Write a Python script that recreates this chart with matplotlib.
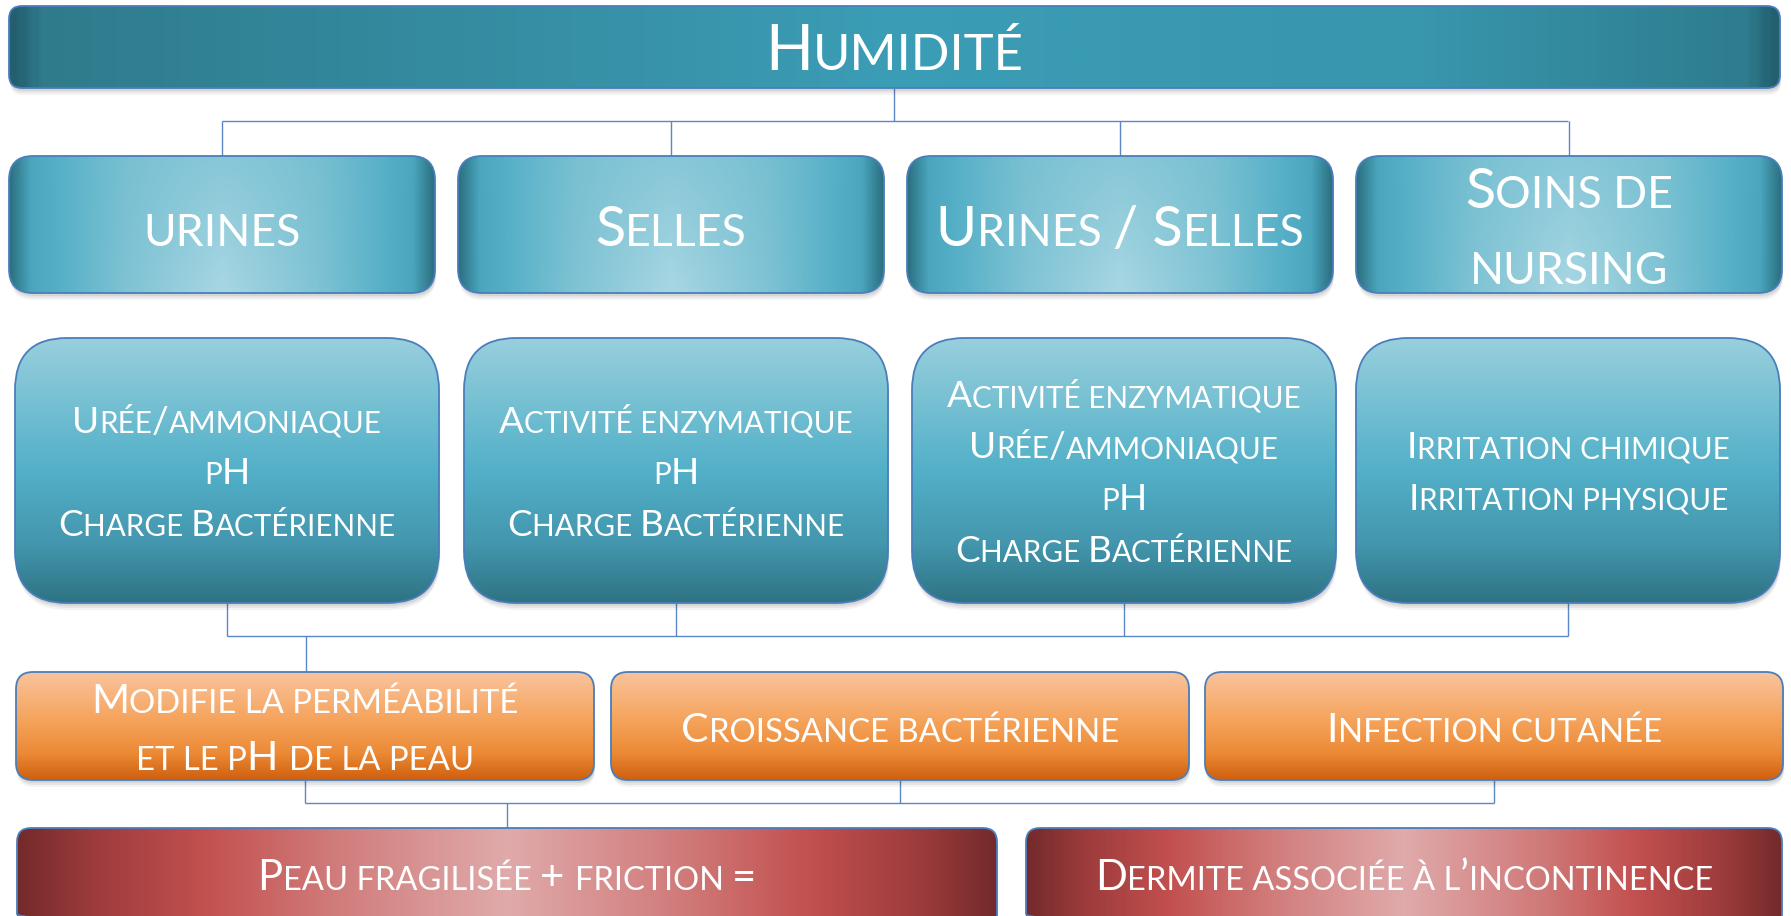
import numpy as np
import matplotlib
matplotlib.use("Agg")
import matplotlib.pyplot as plt
from matplotlib.patches import FancyBboxPatch
from matplotlib.colors import LinearSegmentedColormap, to_rgb
from matplotlib.font_manager import FontProperties, fontManager
from matplotlib.textpath import TextPath

# textes du schema
titre = ["Humidité"]
sources = [["urines"], ["Selles"], ["Urines / Selles"], ["Soins de", "nursing"]]
facteurs = [
    ["Urée/ammoniaque", "pH", "Charge Bactérienne"],
    ["Activité enzymatique", "pH", "Charge Bactérienne"],
    ["Activité enzymatique", "Urée/ammoniaque", "pH", "Charge Bactérienne"],
    ["Irritation chimique", "Irritation physique"],
]
effets = [["Modifie la perméabilité", "et le pH de la peau"], ["Croissance bactérienne"], ["Infection cutanée"]]
resultats = [["Peau fragilisée + friction ="], ["Dermite associée à l’incontinence"]]

W, H = 1791, 916
noms = {f.name for f in fontManager.ttflist}
police = next(p for p in ["Lato", "Open Sans", "DejaVu Sans"] if p in noms)
CAP = TextPath((0, 0), "H", size=100, prop=FontProperties(family=police)).get_extents().height / 100

fig = plt.figure(figsize=(W / 100, H / 100), dpi=100)
ax = fig.add_axes([0, 0, 1, 1])
ax.set_xlim(0, W)
ax.set_ylim(H, 0)
ax.axis("off")
rend = fig.canvas.get_renderer()

BORD = "#4a7ebb"
LIEN = "#5b87c4"


def taille(cap_px):
    return cap_px / CAP * 0.72


def largeur(s, pts):
    fp = FontProperties(family=police, size=pts)
    w1 = rend.get_text_width_height_descent(s + "|", fp, ismath=False)[0]
    w2 = rend.get_text_width_height_descent("|", fp, ismath=False)[0]
    return w1 - w2


def ligne_pc(xc, base, ligne, cap, ratio=0.8):
    # petites capitales : minuscules -> majuscules plus petites
    runs = []
    for ch in ligne:
        petit = ch.islower()
        if ch == " " and runs:
            runs[-1][0] += ch
            continue
        if runs and runs[-1][1] == petit:
            runs[-1][0] += ch.upper()
        else:
            runs.append([ch.upper(), petit])
    tailles = [taille(cap * ratio) if p else taille(cap) for _, p in runs]
    larg = [largeur(s, t) for (s, _), t in zip(runs, tailles)]
    x = xc - sum(larg) / 2
    for (s, _), t, l in zip(runs, tailles, larg):
        ax.text(x, base, s, fontsize=t, family=police, color="white",
                ha="left", va="baseline", zorder=5)
        x += l


def bloc(xc, yc, lignes, cap, pas, ratio=0.8):
    n = len(lignes)
    for i, l in enumerate(lignes):
        ligne_pc(xc, yc + cap / 2 + (i - (n - 1) / 2) * pas, l, cap, ratio)


def degrade(pts):
    return LinearSegmentedColormap.from_list("", pts, N=256)


def boite(x0, y0, w, h, r, img):
    style = "round,pad=0,rounding_size=%g" % r
    for k, a in [(7, 0.05), (5, 0.07), (3, 0.09)]:
        ax.add_patch(FancyBboxPatch((x0 + 1, y0 + k), w, h, boxstyle=style,
                                    fc="#303030", ec="none", alpha=a, zorder=1.5))
    p = FancyBboxPatch((x0, y0), w, h, boxstyle=style, fc="none", ec=BORD, lw=1.3, zorder=3)
    ax.add_patch(p)
    im = ax.imshow(img, extent=(x0, x0 + w, y0 + h, y0), aspect="auto",
                   interpolation="bilinear", zorder=2)
    im.set_clip_path(p)


u = np.linspace(0, 1, 400)[None, :]
v = np.linspace(0, 1, 160)[:, None]
t = np.abs(u - 0.5) * 2 * np.ones_like(v)

# bandeau titre
c_titre = degrade([(0, "#235f6f"), (0.015, "#2f7b8c"), (0.5, "#3b9db6"), (0.8, "#3896ad"),
                   (0.985, "#2e7c8d"), (1, "#235f6f")])
img_titre = c_titre(u * np.ones_like(v))[..., :3]

# sources : degrade horizontal clair au centre
c_src = degrade([(0, "#a9d7e3"), (0.45, "#7fc3d4"), (0.78, "#54afc6"), (0.9, "#4aa6be"), (1, "#2b6f7f")])
img_src = c_src(t)[..., :3]
f = ((1 - v) * 0.45 * (1 - t) ** 1.2)[..., None]
img_src = img_src * (1 - f) + np.array(to_rgb("#5db3c9")) * f

# facteurs : degrade vertical
c_fac = degrade([(0, "#98cfdd"), (0.5, "#52b0c8"), (0.78, "#4396ad"), (1, "#2e7384")])
img_fac = c_fac(v * np.ones_like(u))[..., :3]

# effets : orange
c_eff = degrade([(0, "#f9c39c"), (0.45, "#f5a35b"), (0.75, "#ec8a36"), (1, "#cf600f")])
img_eff = c_eff(v * np.ones_like(u))[..., :3]

# resultats : rouge
c_res = degrade([(0, "#e0aaaa"), (0.35, "#d07c7b"), (0.62, "#c2504f"), (0.85, "#9c3b3c"), (1, "#742a2b")])
img_res = c_res(t)[..., :3]

# liens
def trait(xs, ys):
    ax.plot(xs, ys, color=LIEN, lw=1.0, zorder=1, solid_capstyle="butt")

x_src = [9, 458, 907, 1356]
x_fac = [15, 464, 912, 1356]
x_eff = [16, 611, 1205]
x_res = [17, 1026]

trait([894, 894], [88, 121])
trait([222, 1568], [121, 121])
for x in x_src:
    trait([x + 213, x + 213], [121, 156])
for x in x_fac:
    trait([x + 212, x + 212], [603, 636])
trait([227, 1568], [636, 636])
trait([306, 306], [636, 672])
for x in x_eff:
    trait([x + 289, x + 289], [780, 803])
trait([305, 1494], [803, 803])
trait([507, 507], [803, 828])

# boites
boite(9, 6, 1771, 82, 13, img_titre)
bloc(894.5, 48, titre, 45, 0, 0.81)

for x, lignes in zip(x_src, sources):
    boite(x, 156, 426, 137, 24, img_src)
    bloc(x + 213, 226, lignes, 40, 77)

for x, lignes in zip(x_fac, facteurs):
    boite(x, 338, 424, 265, 52, img_fac)
    bloc(x + 212, 471, lignes, 26.5, 51.5)

for x, lignes in zip(x_eff, effets):
    boite(x, 672, 578, 108, 17, img_eff)
    bloc(x + 289, 727, lignes, 29.5, 57)

boite(x_res[0], 828, 980, 100, 14, img_res)
boite(x_res[1], 828, 756, 100, 14, img_res)
for x, w, lignes in zip(x_res, [980, 756], resultats):
    bloc(x + w / 2, 875, lignes, 30, 0, 0.78)

ax.set_xlim(0, W)
ax.set_ylim(H, 0)
fig.savefig("out.png", dpi=100)
